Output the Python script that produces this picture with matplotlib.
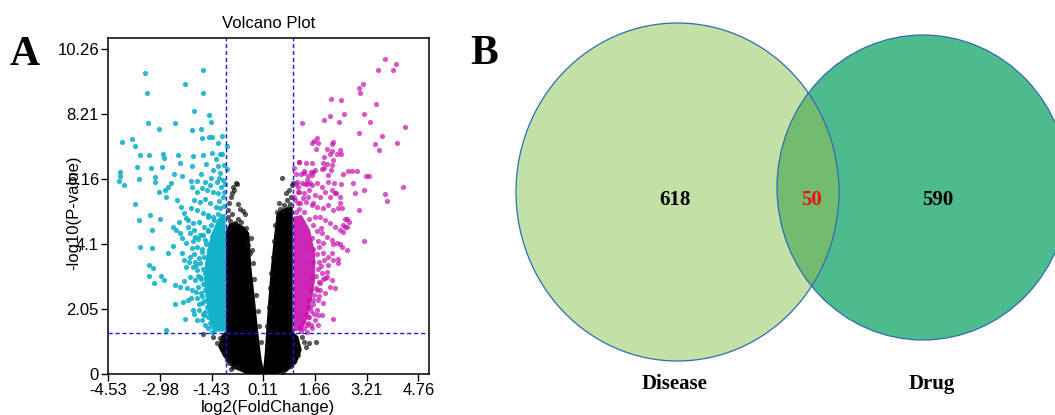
import matplotlib.pyplot as plt
from matplotlib.patches import Ellipse

# ---- panel A: volcano plot (log2FC, -log10 p) ----
down_pts = [
    (-3.41, 9.52), (-1.68, 9.61), (-3.35, 8.88), (-2.23, 9.16), (-1.70, 8.88), (-1.95, 8.31),
    (-3.32, 7.94), (-1.50, 8.17), (-1.45, 7.97), (-2.53, 7.94), (-3.00, 7.73), (-2.02, 7.71),
    (-1.76, 7.73), (-1.71, 7.46), (-1.52, 7.49), (-1.42, 7.47), (-4.10, 7.32), (-3.82, 7.42),
    (-3.73, 7.21), (-0.98, 7.20), (-3.56, 6.92), (-3.31, 6.91), (-2.89, 6.94), (-2.84, 6.83),
    (-2.43, 6.91), (-1.98, 6.89), (-1.70, 6.91), (-1.41, 6.97), (-1.18, 6.94), (-1.11, 6.95),
    (-4.16, 6.39), (-4.18, 6.26), (-4.20, 6.08), (-4.04, 5.96), (-3.65, 6.53), (-3.61, 6.15),
    (-3.24, 6.49), (-3.13, 6.23), (-3.13, 6.07), (-2.92, 6.55), (-2.55, 6.31), (-2.37, 6.65),
    (-2.30, 6.26), (-2.03, 6.58), (-1.60, 6.63), (-1.23, 6.57), (-0.98, 6.46), (-1.88, 6.08),
    (-2.06, 6.11), (-2.83, 5.81), (-2.73, 5.91), (-3.01, 5.74), (-2.63, 6.04), (-2.80, 5.60),
    (-2.45, 5.48), (-3.73, 5.36), (-3.60, 4.86), (-3.26, 5.02), (-2.96, 4.89), (-3.22, 4.55),
    (-3.58, 4.02), (-3.20, 3.97), (-3.29, 3.44), (-3.18, 3.34), (-3.30, 3.11), (-3.16, 2.86),
    (-2.94, 3.09), (-2.86, 2.97), (-2.52, 2.81), (-2.38, 2.76), (-2.53, 2.20), (-2.28, 2.28),
    (-2.21, 1.74), (-2.79, 1.38), (-2.73, 3.81), (-2.58, 4.04), (-2.30, 4.31), (-2.48, 4.55),
    (-2.58, 4.65), (-2.41, 4.81), (-2.18, 4.92), (-2.13, 4.65),
    (-2.03, 5.92), (-1.88, 5.76), (-1.73, 5.86), (-1.58, 5.81), (-1.38, 5.76), (-1.23, 5.71),
    (-1.10, 5.60), (-1.96, 5.49), (-1.78, 5.44), (-1.63, 5.52), (-1.48, 5.39), (-1.30, 5.28),
    (-1.18, 5.23), (-2.06, 5.23), (-1.88, 5.18), (-1.70, 5.07), (-1.53, 5.02), (-1.38, 4.97),
    (-2.13, 4.86), (-1.98, 4.76), (-1.80, 4.81), (-1.66, 4.65), (-1.53, 4.55), (-2.08, 4.44),
    (-1.93, 4.34), (-1.78, 4.39), (-1.63, 4.23), (-2.18, 4.13), (-2.03, 3.97), (-1.88, 4.02),
    (-1.73, 3.86), (-2.08, 3.71), (-1.93, 3.55), (-1.80, 3.65), (-2.00, 3.39), (-1.86, 3.28),
    (-1.78, 3.07), (-1.93, 2.97), (-1.83, 2.76), (-1.76, 2.55), (-1.88, 2.39), (-1.73, 2.23),
    (-1.80, 2.02), (-1.66, 1.86), (-1.73, 1.71), (-1.63, 1.55), (-1.53, 1.44), (-1.43, 1.33),
    (-2.33, 5.28), (-2.26, 5.07), (-2.38, 4.44), (-2.30, 3.81), (-2.18, 3.39), (-2.08, 3.07),
    (-2.03, 2.65), (-2.13, 2.34), (-1.98, 2.02), (-1.88, 1.71),
    (-1.38, 6.44), (-1.18, 6.34), (-1.08, 6.13), (-1.28, 6.07), (-1.48, 5.97),
    (-1.35, 4.85), (-1.45, 4.70), (-1.55, 4.50), (-1.42, 4.35), (-1.70, 4.40), (-1.60, 4.10),
    (-1.72, 3.95), (-1.50, 3.90), (-1.65, 3.70), (-1.78, 3.50), (-1.58, 3.50), (-1.70, 3.30),
    (-1.62, 3.20), (-1.75, 3.00), (-1.68, 2.85), (-1.62, 2.65), (-1.72, 2.45), (-1.65, 2.30),
    (-1.58, 2.10), (-1.62, 1.95), (-1.55, 1.80), (-1.48, 1.60), (-1.42, 1.50), (-1.35, 1.40),
    (-1.95, 3.80), (-1.90, 3.45), (-1.85, 3.10), (-1.90, 2.60), (-1.82, 2.20), (-1.70, 1.90),
    (-2.00, 4.20), (-1.95, 4.55), (-1.85, 4.25), (-1.20, 5.45), (-1.05, 5.30), (-1.12, 5.00),
    (-1.25, 5.05), (-1.05, 5.75), (-1.15, 5.90), (-1.02, 6.00), (-1.20, 6.20), (-1.05, 6.60),
    (-1.30, 6.80), (-1.12, 7.50), (-1.25, 7.30), (-1.45, 6.20), (-1.62, 6.05), (-1.75, 6.30),
    (-1.55, 4.95), (-1.48, 4.15), (-1.52, 3.30), (-1.50, 2.55), (-1.45, 1.95), (-1.40, 2.30),
    (-2.25, 2.95), (-2.15, 2.70), (-2.05, 2.40), (-2.12, 3.55), (-2.25, 3.60), (-1.95, 1.90),
]

up_pts = [
    (3.77, 9.94), (4.10, 9.78), (3.54, 9.60), (4.00, 9.60), (3.10, 9.15), (2.99, 9.02),
    (3.02, 8.86), (3.48, 8.54), (2.15, 8.67), (2.45, 8.64), (2.55, 8.20), (2.11, 8.15),
    (1.93, 8.03), (1.28, 7.92), (2.39, 7.97), (3.14, 8.20), (3.30, 7.95), (4.35, 7.79),
    (2.98, 7.62), (3.67, 7.51), (3.45, 7.25), (3.58, 7.07), (4.13, 7.28), (3.76, 5.67),
    (3.82, 5.47), (4.29, 5.91), (2.22, 7.33), (1.72, 7.44), (1.64, 7.35), (1.59, 7.28),
    (1.77, 7.30), (1.70, 7.12), (2.02, 7.12), (2.19, 7.26), (2.18, 7.04), (2.42, 7.07),
    (2.12, 6.94), (2.33, 6.95), (2.45, 6.94), (1.95, 6.84), (2.20, 6.75), (1.92, 6.67),
    (2.02, 6.63), (1.40, 6.67), (1.19, 6.70), (1.67, 6.44), (1.54, 6.39), (1.34, 6.35),
    (1.57, 6.28), (1.94, 6.52), (1.89, 6.46), (2.18, 6.60), (2.14, 6.44), (2.05, 6.28),
    (2.52, 6.33), (2.65, 6.41), (2.78, 6.42), (2.92, 6.42), (2.81, 6.02), (2.45, 5.99),
    (3.19, 6.25), (3.29, 6.26), (3.12, 5.81), (2.87, 5.70), (2.99, 5.18), (2.24, 6.02),
    (2.17, 5.81), (2.31, 5.70), (2.42, 5.60), (2.48, 5.25), (2.58, 4.89), (2.64, 4.65),
    (2.68, 4.81), (1.10, 6.33), (1.36, 6.00), (1.43, 6.00), (1.52, 6.02), (1.15, 5.91),
    (1.19, 5.75), (3.14, 4.20), (2.42, 5.41), (2.64, 4.89), (2.52, 4.70), (2.50, 4.49),
    (2.62, 3.93), (2.35, 3.62), (2.27, 2.70), (2.20, 1.73), (2.42, 4.12), (2.22, 4.12),
    (2.17, 3.81), (2.07, 3.44), (2.02, 3.23), (1.97, 3.02), (1.82, 2.86), (1.74, 2.65),
    (1.62, 2.33), (1.52, 2.12), (1.77, 1.86), (1.47, 1.81), (1.42, 1.54), (1.22, 1.44),
    (1.12, 6.07), (1.27, 6.02), (1.42, 6.13), (1.57, 5.97), (1.72, 6.04), (1.87, 5.92),
    (2.07, 6.07), (1.17, 5.76), (1.34, 5.71), (1.50, 5.81), (1.67, 5.65), (1.82, 5.60),
    (1.97, 5.76), (2.12, 5.60), (2.27, 5.71), (1.07, 5.49), (1.22, 5.39), (1.40, 5.44),
    (1.57, 5.34), (1.72, 5.28), (1.90, 5.23), (2.07, 5.34), (2.22, 5.18), (2.37, 5.23),
    (1.82, 4.97), (1.97, 4.86), (2.12, 4.76), (2.27, 4.65), (2.42, 4.55), (2.57, 4.65),
    (1.87, 4.44), (2.02, 4.34), (2.17, 4.23), (2.32, 4.13), (2.47, 4.02), (1.92, 3.81),
    (2.07, 3.71), (2.22, 3.60), (2.37, 3.49), (1.87, 3.18), (2.02, 3.07), (2.17, 2.97),
    (1.82, 2.65), (1.97, 2.55), (2.12, 2.76), (1.77, 2.34), (1.92, 2.23), (1.72, 2.02),
    (1.87, 1.86), (1.67, 1.71), (1.77, 1.55), (1.57, 1.44), (1.42, 1.34),
    (1.18, 6.68), (1.57, 6.67), (1.34, 6.42), (1.62, 6.39),
    (1.10, 5.10), (1.20, 5.20), (1.35, 5.10), (1.50, 4.90), (1.60, 4.70), (1.72, 4.50),
    (1.75, 4.20), (1.80, 4.00), (1.72, 3.80), (1.78, 3.55), (1.75, 3.30), (1.70, 3.10),
    (1.78, 2.90), (1.70, 2.70), (1.65, 2.50), (1.62, 2.20), (1.55, 2.00), (1.50, 1.80),
    (1.45, 1.60), (1.35, 1.45), (1.25, 1.35), (1.85, 4.60), (1.90, 4.15), (1.95, 3.60),
    (1.85, 3.40), (1.90, 3.00), (1.80, 2.45), (1.65, 1.90), (1.55, 1.55), (1.05, 5.60),
    (1.15, 5.40), (1.30, 5.55), (1.45, 5.60), (1.60, 5.40), (1.10, 6.00), (1.25, 6.30),
    (1.05, 6.50), (1.45, 6.25), (1.58, 4.30), (1.62, 3.95), (1.60, 3.55), (1.58, 3.05),
    (1.55, 2.65), (1.50, 2.35), (1.45, 2.10), (1.40, 1.90), (1.30, 1.65), (1.68, 4.95),
]

ns_pts = [
    (-0.71, 6.04), (-0.66, 5.99), (-0.78, 5.92), (-0.75, 5.81), (-0.83, 5.73), (-0.85, 5.58),
    (-0.90, 5.39), (-0.93, 5.18), (-0.81, 5.05), (-0.63, 5.37), (-0.58, 5.20), (-0.50, 5.15),
    (-0.42, 5.05), (-0.88, 4.84), (-0.73, 4.78), (-0.33, 4.07), (-0.28, 3.81), (-0.38, 4.23),
    (0.67, 6.18), (0.80, 5.73), (0.88, 5.81), (0.97, 5.97), (0.94, 5.58), (0.82, 5.49),
    (0.62, 5.21), (0.70, 5.16), (0.52, 5.12), (0.92, 5.37), (1.00, 6.04),
    (-1.70, 1.25), (-1.38, 1.18), (-1.28, 0.99), (-1.18, 1.13), (-0.98, 0.44), (-0.92, 0.34),
    (-0.78, 0.21), (-0.66, 0.25), (1.04, 0.55), (1.02, 0.42), (0.94, 0.25), (1.27, 1.18),
    (1.34, 1.02), (1.50, 0.97), (1.70, 1.02), (1.40, 0.84),
    (-0.95, 4.95), (-0.65, 4.90), (-0.55, 4.80), (-0.40, 4.60), (-0.25, 4.30), (-0.22, 3.90),
    (-0.20, 3.50), (-0.15, 3.00), (-0.10, 2.50), (-0.05, 2.00), (0.00, 1.50), (0.05, 1.00),
    (0.22, 0.90), (0.24, 1.50), (0.28, 2.10), (0.31, 2.70), (0.36, 3.20), (0.40, 3.70),
    (0.44, 4.20), (0.48, 4.70), (0.60, 5.40), (0.75, 5.35), (0.86, 5.25), (0.55, 4.95),
    (-1.05, 0.70), (-1.12, 0.90), (-0.85, 0.15), (1.10, 0.95), (1.15, 0.60), (0.70, 0.05),
]

# outlines of the solid (over-plotted) cores of each group
ns_core = [
    (-0.38, 0.0), (-0.78, 0.18), (-1.08, 0.55), (-1.23, 0.86), (-1.13, 1.23), (-1.01, 1.34),
    (-1.01, 4.50), (-0.90, 4.75), (-0.70, 4.80), (-0.45, 4.65), (-0.30, 4.45), (-0.24, 3.40),
    (-0.13, 2.34), (-0.03, 1.28), (0.07, 0.44), (0.12, 0.20), (0.17, 0.76), (0.20, 1.28),
    (0.27, 2.34), (0.35, 3.40), (0.45, 4.44), (0.52, 5.07), (0.72, 5.23), (1.00, 5.28),
    (1.00, 1.34), (1.17, 1.18), (1.27, 0.76), (1.12, 0.34), (0.82, 0.07), (0.52, 0.0),
]
down_core = [
    (-1.01, 5.07), (-1.23, 4.92), (-1.43, 4.44), (-1.58, 3.81), (-1.66, 3.07),
    (-1.60, 2.34), (-1.50, 1.71), (-1.33, 1.34), (-1.01, 1.34),
]
up_core = [
    (1.02, 4.97), (1.27, 5.02), (1.52, 4.55), (1.67, 3.81), (1.67, 2.97),
    (1.57, 2.34), (1.42, 1.71), (1.27, 1.39), (1.02, 1.34),
]

fc_cut = 1.0
p_cut = 1.30
x_ticks = [-4.53, -2.98, -1.43, 0.11, 1.66, 3.21, 4.76]
y_ticks = [0, 2.05, 4.1, 6.16, 8.21, 10.26]

# ---- panel B: venn counts ----
set_names = ['Disease', 'Drug']
only_disease = 618
shared = 50
only_drug = 590

c_down = '#12b2cc'
c_up = '#c80fb0'
c_disease = '#c3e0a6'
c_drug = '#4dbb8e'
c_both = '#73bc6f'
c_edge = '#2e6cb3'

plt.rcParams['font.family'] = ['Liberation Sans', 'DejaVu Sans']

fig = plt.figure(figsize=(10.55, 4.15), dpi=100)

# ---------------- volcano ----------------
ax = fig.add_axes([108 / 1055, 41 / 415, 321 / 1055, 336 / 415])

ax.fill(*zip(*ns_core), color='black', lw=0, zorder=1)
ax.fill(*zip(*down_core), color=c_down, lw=0, zorder=1)
ax.fill(*zip(*up_core), color=c_up, lw=0, alpha=0.9, zorder=1)

ax.scatter(*zip(*ns_pts), s=14, color='#111111', alpha=0.7, lw=0, zorder=2)
ax.scatter(*zip(*down_pts), s=14, color=c_down, alpha=0.9, lw=0, zorder=2)
ax.scatter(*zip(*up_pts), s=14, color=c_up, alpha=0.7, lw=0, zorder=2)

dash = (0, (3, 2))
ax.axvline(-fc_cut, color='#1a1aee', ls=dash, lw=1, zorder=3)
ax.axvline(fc_cut, color='#1a1aee', ls=dash, lw=1, zorder=3)
ax.axhline(p_cut, color='#1a1aee', ls=dash, lw=1, zorder=3)

ax.set_xlim(-4.53, 5.08)
ax.set_ylim(0, 10.61)
ax.set_xticks(x_ticks)
ax.set_xticklabels([f'{v:g}' for v in x_ticks])
ax.set_yticks(y_ticks)
ax.set_yticklabels([f'{v:g}' for v in y_ticks])
ax.tick_params(direction='out', length=5, width=1, labelsize=12, pad=1.5)
for sp in ax.spines.values():
    sp.set_linewidth(1.1)

ax.set_title('Volcano Plot', fontsize=12, pad=7)
ax.set_xlabel('log2(FoldChange)', fontsize=12)
ax.xaxis.set_label_coords(0.5, -0.077)
ax.set_ylabel('-log10(P-value)', fontsize=12)
ax.yaxis.set_label_coords(-0.082, 0.48)

# ---------------- venn ----------------
vx = fig.add_axes([460 / 1055, 0, 595 / 1055, 1])
vx.set_xlim(460, 1055)
vx.set_ylim(415, 0)
vx.axis('off')

disease = Ellipse((677.5, 192), 323, 338, facecolor=c_disease, edgecolor='none', zorder=1)
drug = Ellipse((923, 187.5), 292, 305, facecolor=c_drug, edgecolor='none', zorder=2)
vx.add_patch(disease)
vx.add_patch(drug)
lens = Ellipse((677.5, 192), 323, 338, facecolor=c_both, edgecolor='none', zorder=3)
vx.add_patch(lens)
lens.set_clip_path(drug)
vx.add_patch(Ellipse((677.5, 192), 323, 338, fill=False, edgecolor=c_edge, lw=0.9, zorder=4))
vx.add_patch(Ellipse((923, 187.5), 292, 305, fill=False, edgecolor=c_edge, lw=0.9, zorder=4))

serif = ['Liberation Serif', 'DejaVu Serif']
num_style = dict(fontsize=15, fontweight='bold', family=serif, ha='center', va='center', zorder=5)
vx.text(675, 200, str(only_disease), color='black', **num_style)
vx.text(812, 200, str(shared), color='#ee1111', **num_style)
vx.text(938, 200, str(only_drug), color='black', **num_style)
vx.text(675, 384, set_names[0], color='black', **num_style)
vx.text(932, 384, set_names[1], color='black', **num_style)

# panel letters
fig.text(25 / 1055, 1 - 55 / 415, 'A', fontsize=30, fontweight='bold', family=serif,
         ha='center', va='center')
fig.text(484 / 1055, 1 - 54 / 415, 'B', fontsize=30, fontweight='bold', family=serif,
         ha='center', va='center')

fig.savefig('out.png', dpi=100)
